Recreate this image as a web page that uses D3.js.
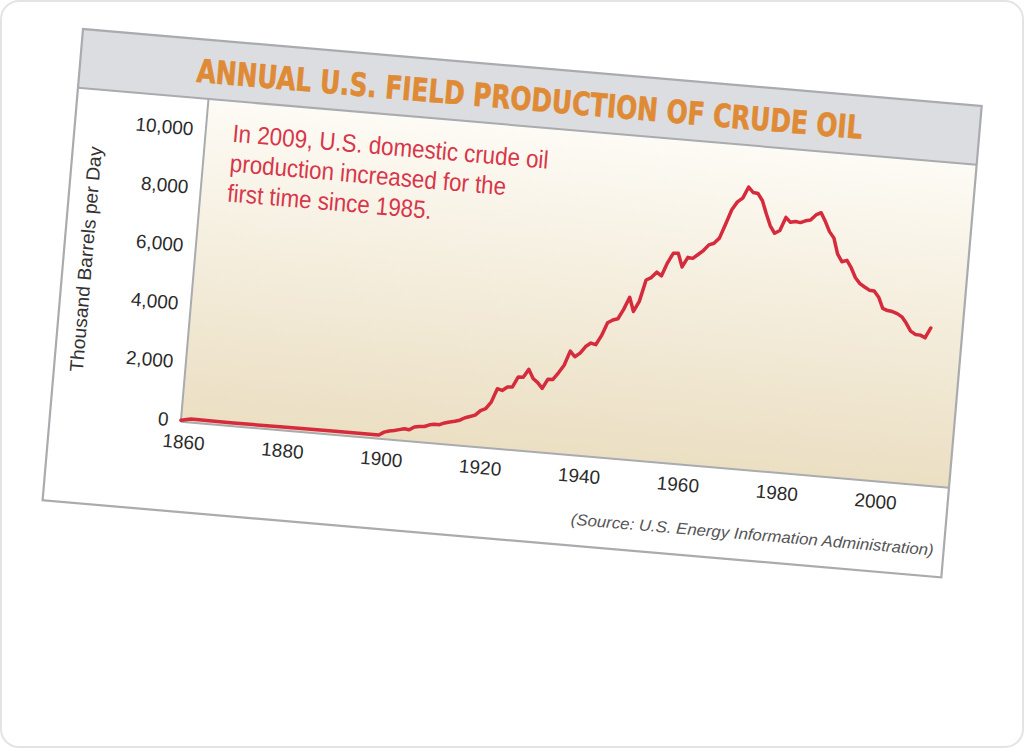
<!DOCTYPE html>
<html>
<head>
<meta charset="utf-8">
<script src="https://cdn.jsdelivr.net/npm/d3@7"></script>
<style>
  body { margin: 0; background: #fff; }
  svg { display: block; }
</style>
</head>
<body>
<div id="chart"></div>
<script>
// Annual U.S. field production of crude oil, thousand barrels per day
const years = [1860, 1862, 1870, 1880, 1890, 1900,
  1901, 1902, 1903, 1904, 1905, 1906, 1907, 1908, 1909, 1910,
  1911, 1912, 1913, 1914, 1915, 1916, 1917, 1918, 1919, 1920,
  1921, 1922, 1923, 1924, 1925, 1926, 1927, 1928, 1929, 1930,
  1931, 1932, 1933, 1934, 1935, 1936, 1937, 1938, 1939, 1940,
  1941, 1942, 1943, 1944, 1945, 1946, 1947, 1948, 1949, 1950,
  1951, 1952, 1953, 1954, 1955, 1956, 1957, 1958, 1959, 1960,
  1961, 1962, 1963, 1964, 1965, 1966, 1967, 1968, 1969, 1970,
  1971, 1972, 1973, 1974, 1975, 1976, 1977, 1978, 1979, 1980,
  1981, 1982, 1983, 1984, 1985, 1986, 1987, 1988, 1989, 1990,
  1991, 1992, 1993, 1994, 1995, 1996, 1997, 1998, 1999, 2000,
  2001, 2002, 2003, 2004, 2005, 2006, 2007, 2008, 2009];
const production = [0, 70, 60, 70, 75, 80,
  190, 243, 275, 321, 368, 344, 457, 490, 502, 574,
  604, 609, 682, 728, 770, 821, 919, 976, 1037, 1210,
  1294, 1531, 2007, 1961, 2092, 2112, 2469, 2475, 2760, 2460,
  2332, 2149, 2481, 2488, 2730, 3006, 3505, 3327, 3466, 3707,
  3842, 3799, 4125, 4584, 4695, 4751, 5088, 5520, 5046, 5407,
  6158, 6256, 6458, 6342, 6807, 7151, 7170, 6710, 7054, 7035,
  7183, 7332, 7542, 7614, 7804, 8295, 8810, 9096, 9238, 9637,
  9463, 9441, 9208, 8774, 8375, 8132, 8245, 8707, 8552, 8597,
  8572, 8649, 8688, 8879, 8971, 8680, 8349, 8140, 7613, 7355,
  7417, 7171, 6847, 6662, 6560, 6465, 6452, 6252, 5881, 5822,
  5801, 5744, 5649, 5441, 5184, 5087, 5077, 5000, 5353];
const yTicks = [0, 2000, 4000, 6000, 8000, 10000];
const xTicks = [1860, 1880, 1900, 1920, 1940, 1960, 1980, 2000];
const titleText = "ANNUAL U.S. FIELD PRODUCTION OF CRUDE OIL";
const noteLines = ["In 2009, U.S. domestic crude oil",
                   "production increased for the",
                   "first time since 1985."];
const sourceText = "(Source: U.S. Energy Information Administration)";
const yTitle = "Thousand Barrels per Day";

const W = 1024, H = 748;
const card = {x: 83, y: 29, w: 902, h: 473, angle: 4.9};
const plot = {left: 131, top: 59, right: 902, bottom: 383};

const svg = d3.select("#chart").append("svg")
    .attr("width", W)
    .attr("height", H);

// outer rounded frame
svg.append("rect")
    .attr("x", 1).attr("y", 1)
    .attr("width", W - 2).attr("height", H - 2)
    .attr("rx", 18)
    .attr("fill", "#fff")
    .attr("stroke", "#e4e4e4")
    .attr("stroke-width", 2);

const defs = svg.append("defs");
const grad = defs.append("linearGradient")
    .attr("id", "plotbg")
    .attr("x1", 0).attr("y1", 0).attr("x2", 0).attr("y2", 1);
grad.append("stop").attr("offset", "0%").attr("stop-color", "#fdfbf5");
grad.append("stop").attr("offset", "100%").attr("stop-color", "#ebdfc3");

// the tilted card
const g = svg.append("g")
    .attr("transform", `translate(${card.x},${card.y}) rotate(${card.angle})`);

g.append("rect")
    .attr("width", card.w).attr("height", card.h)
    .attr("fill", "#fff");

// header band
g.append("rect")
    .attr("width", card.w).attr("height", plot.top)
    .attr("fill", "#dcdde0");

// plot background
g.append("rect")
    .attr("x", plot.left).attr("y", plot.top)
    .attr("width", plot.right - plot.left)
    .attr("height", plot.bottom - plot.top)
    .attr("fill", "url(#plotbg)");

// scales
const x = d3.scaleLinear().domain([1860, 2015.4]).range([plot.left, plot.right]);
const y = d3.scaleLinear().domain([0, 10000]).range([381.5, 90]);

// borders
const borderColor = "#a9abaf";
g.append("line")
    .attr("x1", 0).attr("x2", card.w)
    .attr("y1", plot.top).attr("y2", plot.top)
    .attr("stroke", borderColor).attr("stroke-width", 2);
g.append("line")
    .attr("x1", plot.left).attr("x2", plot.left)
    .attr("y1", plot.top).attr("y2", plot.bottom)
    .attr("stroke", borderColor).attr("stroke-width", 2);
g.append("line")
    .attr("x1", plot.left).attr("x2", card.w)
    .attr("y1", plot.bottom).attr("y2", plot.bottom)
    .attr("stroke", borderColor).attr("stroke-width", 2);
g.append("rect")
    .attr("width", card.w).attr("height", card.h)
    .attr("fill", "none")
    .attr("stroke", borderColor).attr("stroke-width", 2.2);

// title
g.append("text")
    .attr("x", card.w / 2)
    .attr("y", 43)
    .attr("text-anchor", "middle")
    .attr("textLength", 668)
    .attr("lengthAdjust", "spacingAndGlyphs")
    .style("font-family", "'DejaVu Sans Condensed', 'DejaVu Sans', sans-serif")
    .style("font-weight", "bold")
    .style("font-size", "32px")
    .style("fill", "#df8a34")
    .style("stroke", "#df8a34")
    .style("stroke-width", 0.6)
    .text(titleText);

// Y axis
const yAxis = g.append("g")
    .attr("transform", `translate(${plot.left},0)`)
    .call(d3.axisLeft(y).tickValues(yTicks).tickFormat(d3.format(",")).tickSize(0).tickPadding(12.5));
yAxis.select(".domain").remove();
yAxis.selectAll("text")
    .style("font-family", "'Liberation Sans', Arial, sans-serif")
    .style("font-size", "19px")
    .style("fill", "#2b2b2b");

// X axis
const xAxis = g.append("g")
    .attr("transform", `translate(0,${plot.bottom})`)
    .call(d3.axisBottom(x).tickValues(xTicks).tickFormat(d3.format("d")).tickSize(0).tickPadding(13));
xAxis.select(".domain").remove();
xAxis.selectAll("text")
    .attr("dx", 4)
    .style("font-family", "'Liberation Sans', Arial, sans-serif")
    .style("font-size", "19px")
    .style("fill", "#2b2b2b");

// Y axis title
g.append("text")
    .attr("transform", `translate(29,229) rotate(-90)`)
    .attr("text-anchor", "middle")
    .attr("textLength", 226)
    .attr("lengthAdjust", "spacingAndGlyphs")
    .style("font-family", "'Liberation Sans', Arial, sans-serif")
    .style("font-size", "19px")
    .style("fill", "#333")
    .text(yTitle);

// data line
const data = years.map((yr, i) => ({year: yr, value: production[i]}));
g.append("path")
    .datum(data)
    .attr("fill", "none")
    .attr("stroke", "#d62b3d")
    .attr("stroke-width", 3.5)
    .attr("stroke-linejoin", "round")
    .attr("stroke-linecap", "round")
    .attr("d", d3.line().x(d => x(d.year)).y(d => y(d.value)));

// annotation
const noteLens = [317, 277, 205];
noteLines.forEach((line, i) => {
    g.append("text")
        .attr("x", 158)
        .attr("y", 99.5 + i * 30)
        .attr("textLength", noteLens[i])
        .attr("lengthAdjust", "spacingAndGlyphs")
        .style("font-family", "'Liberation Sans Narrow', 'Liberation Sans', Arial, sans-serif")
        .style("font-size", "25px")
        .style("fill", "#d8364a")
        .text(line);
});

// source
g.append("text")
    .attr("x", 892)
    .attr("y", 452)
    .attr("text-anchor", "end")
    .attr("textLength", 364)
    .attr("lengthAdjust", "spacingAndGlyphs")
    .style("font-family", "'Liberation Sans Narrow', 'Liberation Sans', Arial, sans-serif")
    .style("font-style", "italic")
    .style("font-size", "16px")
    .style("fill", "#555")
    .text(sourceText);
</script>
</body>
</html>
